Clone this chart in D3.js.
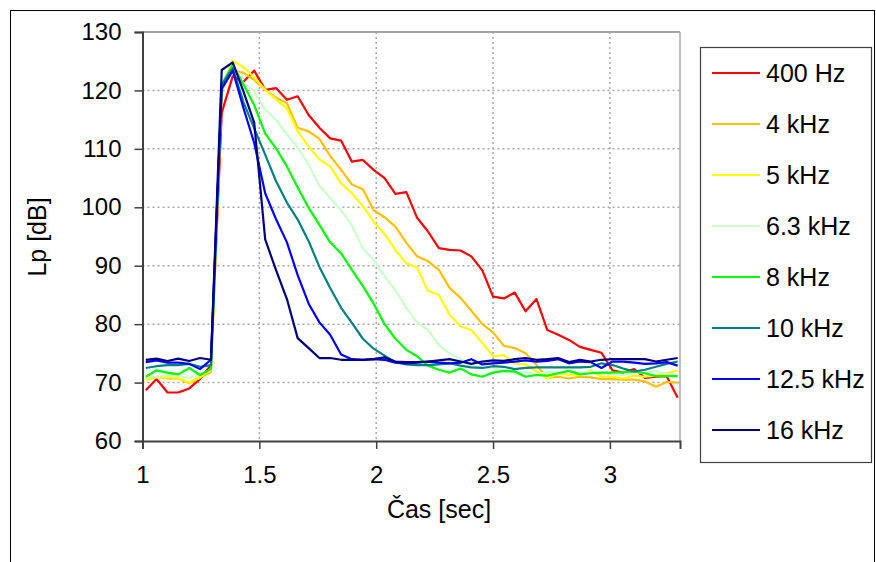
<!DOCTYPE html>
<html>
<head>
<meta charset="utf-8">
<script src="https://cdn.jsdelivr.net/npm/d3@7"></script>
<style>
  body { margin: 0; background: #fff; }
  text { font-family: "Liberation Sans", Arial, sans-serif; fill: #000; }
</style>
</head>
<body>
<div id="chart-area"></div>
<script>
// time stamps [sec]
var times = [1.014, 1.060, 1.107, 1.153, 1.200, 1.246, 1.293, 1.339, 1.386, 1.432,
             1.478, 1.525, 1.571, 1.618, 1.664, 1.711, 1.757, 1.803, 1.850, 1.896,
             1.943, 1.989, 2.036, 2.082, 2.129, 2.175, 2.221, 2.268, 2.314, 2.361,
             2.407, 2.454, 2.500, 2.546, 2.593, 2.639, 2.686, 2.732, 2.779, 2.825,
             2.872, 2.918, 2.964, 3.011, 3.057, 3.104, 3.150, 3.197, 3.243, 3.290];

var names = ["400 Hz", "4 kHz", "5 kHz", "6.3 kHz", "8 kHz", "10 kHz", "12.5 kHz", "16 kHz"];
var colors = ["#ff0000", "#ffc000", "#ffff00", "#ccffcc", "#00ff00", "#008080", "#0000ff", "#000080"];

var hz400 = [68.7, 70.6, 68.3, 68.3, 69.0, 70.6, 73.0, 116.2, 122.4, 121.5,
             123.4, 120.1, 120.4, 118.4, 119.0, 115.8, 113.6, 111.8, 111.4, 107.8,
             108.1, 106.4, 105.0, 102.3, 102.6, 98.2, 95.9, 93.0, 92.7, 92.6,
             91.6, 89.2, 84.7, 84.4, 85.4, 82.2, 84.3, 79.0, 78.2, 77.3,
             76.1, 75.6, 75.1, 72.1, 71.7, 72.3, 70.8, 71.0, 71.1, 67.4];
var khz4 = [70.5, 71.0, 70.7, 70.7, 69.9, 70.8, 71.8, 120.0, 123.5, 123.0,
            121.8, 120.1, 118.8, 117.8, 113.6, 113.0, 111.7, 108.8, 106.4, 103.9,
            103.1, 99.5, 98.3, 96.7, 93.9, 91.6, 90.8, 89.3, 86.2, 84.5,
            82.3, 80.0, 78.6, 76.3, 75.9, 75.0, 73.0, 70.8, 71.0, 70.7,
            71.0, 70.9, 70.6, 70.6, 70.5, 70.5, 70.2, 69.3, 70.1, 70.0];
var khz5 = [70.5, 70.9, 70.9, 70.8, 70.0, 71.0, 72.2, 120.5, 125.1, 124.0,
            122.2, 120.1, 118.5, 116.9, 113.0, 110.4, 108.2, 107.0, 104.1, 102.4,
            100.2, 97.5, 95.4, 92.7, 90.4, 89.7, 85.7, 85.0, 81.6, 79.6,
            79.0, 76.8, 74.5, 74.7, 73.3, 73.1, 71.9, 70.7, 71.6, 71.3,
            71.3, 72.1, 71.0, 71.0, 70.7, 71.2, 71.0, 71.2, 71.6, 72.1];
var khz6_3 = [71.0, 71.0, 71.3, 71.2, 70.8, 71.4, 72.2, 121.0, 124.2, 121.2,
              119.8, 116.7, 115.0, 112.5, 110.2, 107.3, 103.7, 101.6, 99.5, 96.9,
              93.0, 91.0, 88.2, 85.8, 82.8, 80.3, 79.0, 76.4, 75.0, 74.0,
              73.0, 72.5, 72.5, 72.0, 71.5, 71.8, 71.3, 71.8, 71.7, 72.0,
              71.6, 71.9, 71.6, 71.4, 71.3, 71.8, 71.6, 72.0, 71.5, 71.3];
var khz8 = [71.0, 72.1, 71.7, 71.4, 72.5, 71.3, 72.3, 121.0, 124.4, 121.0,
            117.5, 112.6, 110.1, 107.0, 103.4, 99.9, 97.0, 94.0, 92.1, 89.3,
            86.5, 83.5, 80.0, 77.5, 75.6, 74.5, 72.9, 72.2, 71.7, 72.4,
            71.4, 71.0, 71.7, 72.0, 71.9, 71.0, 71.3, 71.2, 71.6, 72.0,
            71.4, 71.6, 71.7, 71.7, 71.8, 71.9, 71.6, 71.1, 71.1, 71.1];
var khz10 = [72.5, 72.8, 73.0, 73.0, 73.2, 72.7, 73.0, 121.0, 123.8, 118.0,
             113.5, 109.0, 104.5, 100.8, 97.9, 94.2, 89.8, 86.2, 82.8, 80.2,
             77.5, 75.8, 74.6, 73.5, 73.1, 73.0, 73.0, 73.1, 73.3, 72.9,
             72.6, 72.5, 72.8, 72.7, 72.3, 72.5, 72.6, 72.6, 72.6, 72.6,
             72.6, 72.7, 73.3, 73.0, 72.4, 71.9, 72.2, 72.7, 73.2, 73.6];
var khz12_5 = [73.5, 73.8, 73.4, 73.4, 73.2, 72.3, 73.9, 120.3, 123.4, 117.0,
               111.0, 102.4, 98.0, 94.0, 88.4, 83.5, 80.3, 78.2, 74.8, 74.0,
               73.9, 74.0, 73.9, 73.4, 73.3, 73.4, 73.6, 73.4, 73.3, 73.4,
               74.0, 73.1, 73.3, 73.4, 73.6, 73.8, 73.6, 73.7, 74.0, 73.3,
               73.6, 73.5, 72.5, 73.6, 73.6, 73.4, 73.2, 73.3, 73.5, 72.9];
var khz16 = [73.9, 74.1, 73.7, 74.1, 73.7, 74.2, 73.9, 123.5, 124.8, 119.8,
             114.5, 94.5, 89.3, 84.3, 77.6, 75.9, 74.2, 74.2, 73.9, 73.9,
             73.9, 74.0, 74.3, 73.6, 73.5, 73.5, 73.6, 73.8, 74.0, 73.6,
             73.2, 73.6, 73.8, 73.7, 74.0, 74.2, 73.9, 74.0, 74.2, 73.5,
             73.9, 73.6, 73.9, 74.0, 74.0, 74.0, 74.0, 73.6, 73.9, 74.2];

var xTicks = [1, 1.5, 2, 2.5, 3];
var yTicks = [60, 70, 80, 90, 100, 110, 120, 130];

var allSeries = [hz400, khz4, khz5, khz6_3, khz8, khz10, khz12_5, khz16];

var margin = { left: 142.5, right: 196, top: 32, bottom: 121 };
var W = 876, H = 562;
var width = W - margin.left - margin.right;   // plot ends at x=680
var height = H - margin.top - margin.bottom;  // plot ends at y=441

var svg = d3.select("#chart-area")
    .append("svg")
    .attr("width", W)
    .attr("height", H);

// outer chart border
svg.append("rect")
    .attr("x", 10.5).attr("y", 10.5)
    .attr("width", 864).attr("height", 600)
    .attr("fill", "none").attr("stroke", "#000").attr("stroke-width", 1);

var g = svg.append("g").attr("transform", "translate(" + margin.left + "," + margin.top + ")");

var x = d3.scaleLinear().domain([1, 3.3]).range([0, width]);
var y = d3.scaleLinear().domain([60, 130]).range([height, 0]);

// grid
g.selectAll(".hgrid").data(yTicks.filter(d => d > 60 && d < 130)).enter()
    .append("line")
    .attr("x1", 0).attr("x2", width)
    .attr("y1", d => y(d)).attr("y2", d => y(d))
    .attr("stroke", "#a6a6a6").attr("stroke-width", 1.5).attr("stroke-dasharray", "2,3");
g.selectAll(".vgrid").data(xTicks.filter(d => d > 1)).enter()
    .append("line")
    .attr("y1", 0).attr("y2", height)
    .attr("x1", d => x(d)).attr("x2", d => x(d))
    .attr("stroke", "#a6a6a6").attr("stroke-width", 1.5).attr("stroke-dasharray", "2,3");

// plot frame (top / right)
g.append("line").attr("x1", 0).attr("x2", width).attr("y1", 0).attr("y2", 0)
    .attr("stroke", "#a6a6a6").attr("stroke-width", 2);
g.append("line").attr("x1", width).attr("x2", width).attr("y1", 0).attr("y2", height)
    .attr("stroke", "#a6a6a6").attr("stroke-width", 1.5);

// lines
g.append("clipPath").attr("id", "clip")
    .append("rect").attr("width", width).attr("height", height);

var line = d3.line()
    .x((d, i) => x(times[i]))
    .y(d => y(d));

g.append("g").attr("clip-path", "url(#clip)")
    .selectAll("path").data(allSeries).enter()
    .append("path")
    .attr("d", line)
    .attr("fill", "none")
    .attr("stroke", (d, i) => colors[i])
    .attr("stroke-width", 2.2)
    .attr("stroke-linejoin", "round");

// axes
var xAxis = d3.axisBottom(x).tickValues(xTicks).tickSize(8).tickPadding(17).tickFormat(d3.format("~g"));
var yAxis = d3.axisLeft(y).tickValues(yTicks).tickSize(8).tickPadding(13);

var gx = g.append("g").attr("transform", "translate(0," + height + ")").call(xAxis);
var gy = g.append("g").call(yAxis);

[gx, gy].forEach(function(a) {
    a.select(".domain").attr("stroke", "#404040").attr("stroke-width", 2);
    a.selectAll(".tick line").attr("stroke", "#404040").attr("stroke-width", 1.5);
    a.selectAll(".tick text").style("font-size", "24px").attr("fill", "#000");
});

// axis titles
svg.append("text")
    .attr("x", 439).attr("y", 518)
    .attr("text-anchor", "middle")
    .style("font-size", "25px")
    .text("Čas [sec]");
svg.append("text")
    .attr("transform", "translate(46,237) rotate(-90)")
    .attr("text-anchor", "middle")
    .style("font-size", "25px")
    .text("Lp [dB]");

// legend
var legend = svg.append("g");
legend.append("rect")
    .attr("x", 700.5).attr("y", 47.5)
    .attr("width", 171).attr("height", 415)
    .attr("fill", "#fff").attr("stroke", "#404040").attr("stroke-width", 1.2);

var items = legend.selectAll(".item").data(names).enter()
    .append("g")
    .attr("transform", (d, i) => "translate(0," + (73 + i * 51) + ")");
items.append("line")
    .attr("x1", 712).attr("x2", 760)
    .attr("stroke", (d, i) => colors[i]).attr("stroke-width", 2);
items.append("text")
    .attr("x", 766).attr("y", 9)
    .style("font-size", "25px")
    .text(d => d);
</script>
</body>
</html>
